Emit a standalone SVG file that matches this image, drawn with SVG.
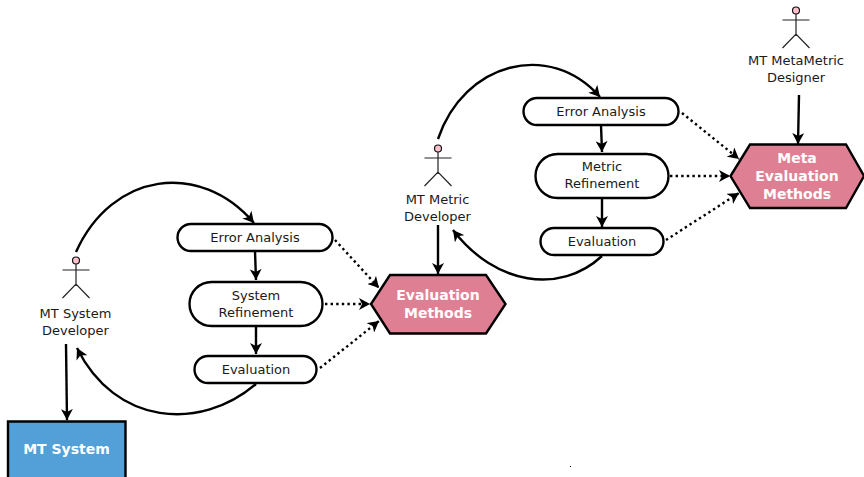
<svg xmlns="http://www.w3.org/2000/svg" width="864" height="477" viewBox="0 0 864 477">
<style>
text{font-family:"DejaVu Sans",sans-serif;font-size:13px;fill:#1a1a1a;text-anchor:middle}
.w{font-weight:bold;font-size:14px;fill:#fff}
.p{fill:#fff;stroke:#000;stroke-width:2.4}
.h{fill:#df7f93;stroke:#000;stroke-width:2.4}
.c{fill:none;stroke:#000;stroke-width:2.4}
.d{fill:none;stroke:#000;stroke-width:2.4;stroke-dasharray:2.4 3.2}
.a{fill:none;stroke:#222;stroke-width:1.2}
.o{fill:#ffc0cb;stroke:#111;stroke-width:1.2}
</style>
<defs>
<marker id="ah" markerUnits="userSpaceOnUse" markerWidth="13" markerHeight="12" refX="11" refY="6" orient="auto"><path d="M0 0L11 6L0 12L3 6Z" fill="#000"/></marker>
<g id="actor"><circle class="o" cx="0" cy="-20.500" r="3.500"/><path class="a" d="M0-17V5M-13.500-11H13.500M-13.500 17L0 3L13.500 17"/></g>
</defs>
<g id="connectors">
<path class="c" d="M76 252C112 172 200 160 254 223" marker-end="url(#ah)"/>
<path class="c" d="M255 251L256 280" marker-end="url(#ah)"/>
<path class="c" d="M256 326V354" marker-end="url(#ah)"/>
<path class="c" d="M256 384C200 432 115 425 77 348" marker-end="url(#ah)"/>
<path class="c" d="M66 344L67 420" marker-end="url(#ah)"/>
<path class="d" d="M335 240L379 288" marker-end="url(#ah)"/>
<path class="d" d="M325 304H370" marker-end="url(#ah)"/>
<path class="d" d="M320 368L379 321" marker-end="url(#ah)"/>
<path class="c" d="M438 139C464 62 550 40 600 97" marker-end="url(#ah)"/>
<path class="c" d="M601 125L602 152" marker-end="url(#ah)"/>
<path class="c" d="M602 198V227" marker-end="url(#ah)"/>
<path class="c" d="M602 256C560 295 495 285 453 230" marker-end="url(#ah)"/>
<path class="c" d="M438 225V274" marker-end="url(#ah)"/>
<path class="d" d="M682 113L739 159" marker-end="url(#ah)"/>
<path class="d" d="M670 176H730" marker-end="url(#ah)"/>
<path class="d" d="M666 240L739 193" marker-end="url(#ah)"/>
<path class="c" d="M799 95L798 144" marker-end="url(#ah)"/>
</g>
<g id="n-actor1"><use href="#actor" x="76" y="281"/><text x="75.500" y="318">MT System</text><text x="75.500" y="335">Developer</text></g>
<g id="n-ea1"><rect class="p" x="177.500" y="224" width="155" height="27" rx="13.500"/><text x="255" y="242">Error Analysis</text></g>
<g id="n-ref1"><rect class="p" x="189.500" y="282" width="133" height="44" rx="22"/><text x="256" y="300">System</text><text x="256" y="317">Refinement</text></g>
<g id="n-ev1"><rect class="p" x="194.500" y="356" width="122" height="27" rx="13.500"/><text x="256" y="374">Evaluation</text></g>
<g id="n-sys"><path d="M8 477V421.500H125.500V477" fill="#539fd8" stroke="#000" stroke-width="2.400"/><text class="w" x="66.500" y="454">MT System</text></g>
<g id="n-actor2"><use href="#actor" x="438" y="169"/><text x="437.500" y="204">MT Metric</text><text x="437.500" y="221">Developer</text></g>
<g id="n-em"><path class="h" d="M390 275H486L505.500 304L486 333.500H390L371 304Z"/><text class="w" x="438" y="300">Evaluation</text><text class="w" x="438" y="318">Methods</text></g>
<g id="n-ea2"><rect class="p" x="523.500" y="98" width="155" height="27" rx="13.500"/><text x="601" y="116">Error Analysis</text></g>
<g id="n-ref2"><rect class="p" x="535.500" y="154" width="133" height="44" rx="22"/><text x="602" y="171">Metric</text><text x="602" y="188">Refinement</text></g>
<g id="n-ev2"><rect class="p" x="540.500" y="228" width="123" height="27" rx="13.500"/><text x="602" y="246">Evaluation</text></g>
<g id="n-actor3"><use href="#actor" x="796" y="31"/><text x="796" y="65">MT MetaMetric</text><text x="796" y="82">Designer</text></g>
<g id="n-mem"><path class="h" d="M750 144.500H846L864 176L846 208H750L730.500 176Z"/><text class="w" x="797" y="163">Meta</text><text class="w" x="797" y="181">Evaluation</text><text class="w" x="797" y="199">Methods</text></g>
<rect x="570" y="466" width="1" height="1" fill="#000"/>
</svg>
